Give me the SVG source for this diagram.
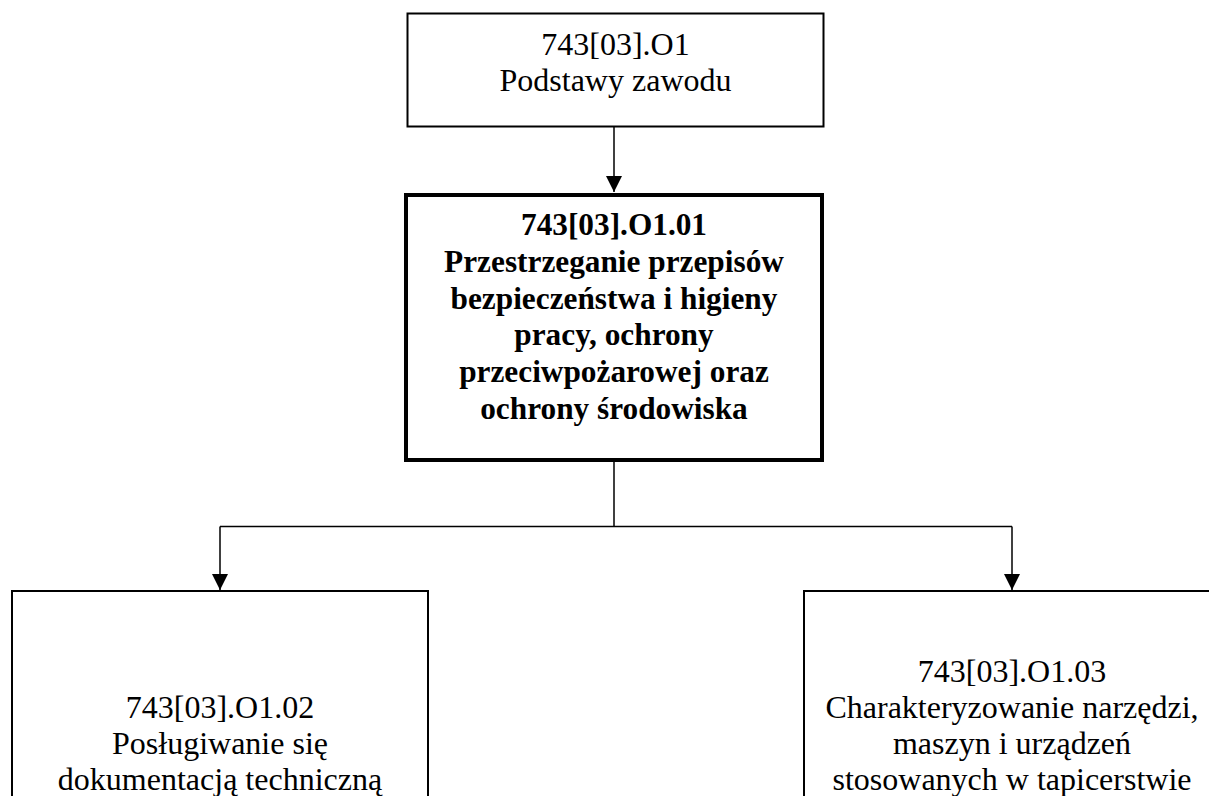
<svg xmlns="http://www.w3.org/2000/svg" width="1209" height="796" viewBox="0 0 1209 796">
  <style>
    .box { fill: #ffffff; stroke: #000000; stroke-width: 2; }
    .bold-box { fill: #ffffff; stroke: #000000; stroke-width: 4; }
    .t { font-family: "Liberation Serif", "Times New Roman", serif; font-size: 32px; fill: #000000; text-anchor: middle; }
    .tb { font-family: "Liberation Serif", "Times New Roman", serif; font-size: 31.3px; font-weight: bold; fill: #000000; text-anchor: middle; }
    .conn { fill: none; stroke: #000000; stroke-width: 1.5; }
  </style>
  <defs>
    <marker id="arrow" markerUnits="userSpaceOnUse" markerWidth="16" markerHeight="16" viewBox="0 0 16 16" refX="16" refY="8" orient="auto">
      <path d="M0,0 L16,8 L0,16 Z" fill="#000000"/>
    </marker>
  </defs>
  <rect width="1209" height="796" fill="#ffffff"/>

  <g id="connectors">
    <line class="conn" x1="614" y1="127" x2="614" y2="192" marker-end="url(#arrow)"/>
    <line class="conn" x1="614" y1="460" x2="614" y2="526.5"/>
    <line class="conn" x1="220" y1="526.5" x2="1012" y2="526.5"/>
    <line class="conn" x1="220" y1="526.5" x2="220" y2="590" marker-end="url(#arrow)"/>
    <line class="conn" x1="1012" y1="526.5" x2="1012" y2="590" marker-end="url(#arrow)"/>
  </g>

  <g id="node-o1">
    <rect class="box" x="407.5" y="13.5" width="416" height="113"/>
    <text class="t" x="615.5" y="55">743[03].O1</text>
    <text class="t" x="615.5" y="91">Podstawy zawodu</text>
  </g>

  <g id="node-o1-01">
    <rect class="bold-box" x="406" y="195" width="416" height="265"/>
    <text class="tb" x="614" y="235">743[03].O1.01</text>
    <text class="tb" x="614" y="272">Przestrzeganie przepisów</text>
    <text class="tb" x="614" y="308.5">bezpieczeństwa i higieny</text>
    <text class="tb" x="614" y="345">pracy, ochrony</text>
    <text class="tb" x="614" y="382">przeciwpożarowej oraz</text>
    <text class="tb" x="614" y="419">ochrony środowiska</text>
  </g>

  <g id="node-o1-02">
    <rect class="box" x="12" y="591" width="416" height="220"/>
    <text class="t" x="220" y="718">743[03].O1.02</text>
    <text class="t" x="220" y="754">Posługiwanie się</text>
    <text class="t" x="220" y="790">dokumentacją techniczną</text>
  </g>

  <g id="node-o1-03">
    <rect class="box" x="804" y="591" width="416" height="220"/>
    <text class="t" x="1012" y="682">743[03].O1.03</text>
    <text class="t" x="1012" y="718">Charakteryzowanie narzędzi,</text>
    <text class="t" x="1012" y="754">maszyn i urządzeń</text>
    <text class="t" x="1012" y="790">stosowanych w tapicerstwie</text>
  </g>
</svg>
